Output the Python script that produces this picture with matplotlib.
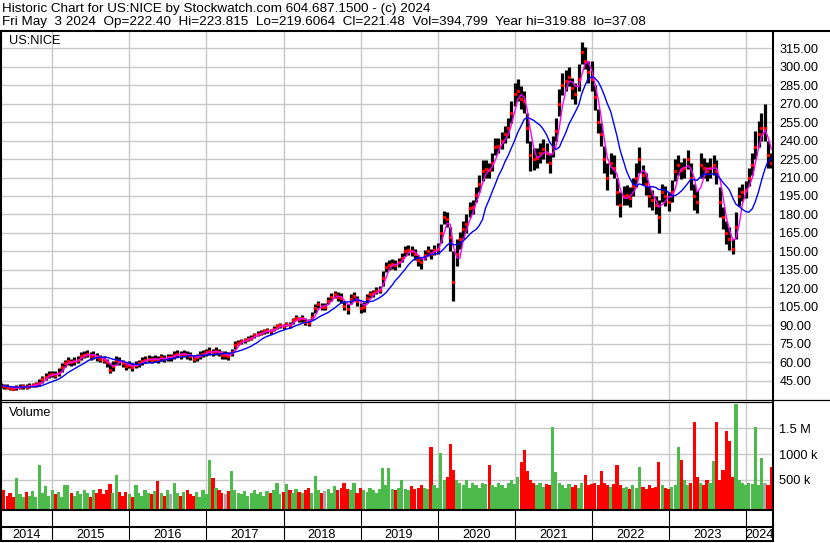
import numpy as np
import pandas as pd
import matplotlib
matplotlib.use('Agg')
import matplotlib.pyplot as plt

plt.rcParams['font.family'] = ['Liberation Sans', 'DejaVu Sans']

# ---------------- data (semi-monthly) ----------------
start_date = '2014-05-01'
close = [
    41, 40.5, 40, 39, 38.5, 39.5, 40, 40.5, 40, 41, 41.5, 42,
    43, 46, 48, 50, 50.5, 50, 51, 56, 59, 61, 60, 61,
    62, 65, 66, 67, 65, 66, 64, 63, 62, 60, 54, 57,
    62, 61, 59, 57, 58, 56, 58, 59, 61, 62, 63, 62,
    63, 62, 64, 63, 64, 64, 66, 67, 66, 67, 66, 65,
    63, 64, 66, 67, 68, 69, 68, 69, 68, 66, 66, 65,
    68, 74, 76, 77, 78, 79, 80, 82, 83, 84, 85, 86,
    85, 87, 89, 90, 89, 91, 90, 94, 96, 95, 96, 93,
    92, 97, 104, 107, 105, 105, 110, 113, 115, 113, 112, 106,
    103, 111, 114, 110, 104, 105, 112, 115, 116, 118, 119, 128,
    137, 139, 140, 139, 141, 145, 150, 151, 150, 148, 143, 141,
    147, 150, 148, 151, 152, 165, 178, 176, 162, 125, 148, 160,
    168, 172, 185, 186, 196, 205, 215, 217, 216, 222, 235, 236,
    240, 245, 250, 262, 278, 280, 274, 272, 250, 228, 225, 226,
    230, 233, 230, 222, 235, 248, 270, 285, 288, 292, 283, 278,
    290, 312, 305, 296, 290, 275, 255, 245, 225, 210, 222, 218,
    198, 188, 195, 196, 193, 203, 210, 225, 212, 205, 195, 192,
    188, 178, 198, 195, 190, 198, 215, 220, 216, 218, 225, 210,
    195, 190, 220, 218, 215, 218, 220, 215, 190, 178, 165, 160,
    152, 170, 195, 198, 200, 210, 220, 235, 245, 250, 250, 228,
    221.48]
high = [
    43, 42.5, 42, 41, 40.5, 41.5, 42, 42.5, 42, 43, 43.5, 44,
    46, 49, 51, 53, 53, 52.5, 55, 59, 62, 64, 63, 64,
    65, 68, 69, 70, 68.5, 69, 67.5, 66, 65, 63, 59, 61,
    65, 64, 62, 60, 61, 59, 61, 62, 64, 65, 66, 65,
    66, 65, 67, 66, 67, 67, 69, 70, 69, 70, 69, 68,
    66, 67, 69, 70, 71, 72, 71, 72, 71, 69, 69, 68,
    71, 77, 78, 79, 80, 81, 82, 84, 85, 86, 87, 88,
    87, 89, 91, 92, 91, 93, 93, 96, 98, 97, 98, 96,
    95, 101, 107, 110, 108, 108, 113, 116, 118, 117, 116, 110,
    107, 115, 117, 114, 108, 109, 115, 118, 119, 121, 122, 134,
    141, 143, 144, 143, 145, 149, 154, 155, 154, 152, 147, 145,
    151, 154, 152, 155, 157, 172, 183, 182, 170, 150, 160, 166,
    175, 180, 190, 192, 202, 212, 224, 224, 222, 230, 242, 242,
    247, 252, 258, 272, 287, 290, 284, 280, 262, 240, 234, 234,
    238, 241, 238, 230, 244, 258, 282, 295, 297, 300, 291, 287,
    302, 319.88, 316, 305, 305, 285, 266, 254, 236, 222, 230, 228,
    210, 198, 203, 204, 202, 210, 222, 235, 220, 214, 203, 200,
    195, 192, 205, 203, 198, 208, 225, 228, 223, 226, 232, 222,
    205, 200, 230, 226, 223, 226, 228, 224, 202, 186, 175, 170,
    160, 182, 202, 205, 207, 218, 230, 248, 256, 262, 270, 240,
    230]
low = [
    39, 38.5, 38, 37.5, 37.08, 37.5, 38, 38.5, 38, 39, 39.5, 40,
    41, 43, 45.5, 47.5, 48, 47.5, 49, 52, 56, 58, 57, 58,
    59, 62, 63.5, 64, 62, 63, 61, 60, 59, 56, 51, 53,
    58, 58, 56, 54, 55, 53, 55, 56, 58, 59, 60, 59,
    60, 59, 61, 60, 61, 61, 63, 64, 63, 64, 63, 62,
    60, 61, 63, 64, 65, 66, 65, 66, 65, 63, 63, 62,
    65, 71, 74, 75, 76, 77, 78, 80, 81, 82, 83, 84,
    83, 85, 87, 88, 87, 89, 88, 91, 94, 93, 93, 90,
    89, 94, 100, 104, 102, 102, 107, 110, 112, 110, 108, 102,
    99, 107, 110, 106, 100, 101, 108, 112, 113, 115, 116, 122,
    133, 135, 136, 135, 137, 141, 146, 147, 146, 143, 138, 136,
    143, 146, 144, 147, 148, 157, 172, 170, 150, 110, 138, 152,
    160, 165, 178, 180, 190, 198, 207, 210, 210, 215, 228, 230,
    233, 238, 242, 254, 268, 272, 266, 262, 238, 215, 216, 218,
    222, 225, 222, 214, 227, 240, 260, 277, 280, 284, 274, 270,
    280, 302, 298, 287, 280, 265, 246, 236, 214, 200, 213, 210,
    188, 178, 188, 188, 186, 195, 202, 214, 204, 196, 186, 184,
    180, 165, 190, 187, 183, 190, 207, 212, 209, 210, 217, 200,
    184, 181, 210, 210, 207, 210, 212, 205, 178, 168, 156, 151,
    148, 160, 187, 191, 193, 203, 212, 225, 235, 240, 240, 218,
    218]
volume_m = [
    1.74, 0.3, 0.2, 0.25, 0.18, 0.54, 0.22, 0.18, 0.26, 0.2, 0.28, 0.17,
    0.78, 0.25, 0.39, 0.2, 0.3, 0.22, 0.26, 0.18, 0.4, 0.4, 0.25, 0.2,
    0.28, 0.22, 0.3, 0.25, 0.18, 0.3, 0.25, 0.33, 0.22, 0.3, 0.42, 0.25,
    0.6, 0.27, 0.2, 0.26, 0.22, 0.18, 0.4, 0.25, 0.2, 0.3, 0.24, 0.22,
    0.28, 0.49, 0.25, 0.2, 0.3, 0.22, 0.45, 0.25, 0.2, 0.26, 0.3, 0.22,
    0.2, 0.26, 0.18, 0.3, 0.22, 0.89, 0.54, 0.35, 0.3, 0.25, 0.22, 0.28,
    0.68, 0.3, 0.25, 0.22, 0.28, 0.2, 0.25, 0.3, 0.22, 0.26, 0.2, 0.28,
    0.25, 0.3, 0.45, 0.22, 0.26, 0.42, 0.3, 0.25, 0.33, 0.27, 0.25, 0.3,
    0.35, 0.25, 0.58, 0.3, 0.25, 0.28, 0.33, 0.25, 0.38, 0.3, 0.35, 0.45,
    0.33, 0.3, 0.45, 0.25, 0.35, 0.3, 0.27, 0.35, 0.3, 0.25, 0.33, 0.74,
    0.4, 0.74, 0.33, 0.3, 0.35, 0.5, 0.33, 0.3, 0.38, 0.33, 0.35, 0.4,
    0.35, 0.33, 1.14, 0.4, 0.35, 1.03, 0.5, 0.55, 1.2, 0.7, 0.5, 0.45,
    0.4, 0.5, 0.35, 0.45, 0.4, 0.35, 0.45, 0.43, 0.78, 0.4, 0.37, 0.45,
    0.4, 0.35, 0.45, 0.5, 0.43, 0.55, 0.85, 1.08, 0.68, 0.5, 0.45, 0.4,
    0.45, 0.37, 0.43, 0.4, 1.52, 0.66, 0.45, 0.4, 0.35, 0.43, 0.37, 0.4,
    0.35, 0.45, 0.6, 0.4, 0.43, 0.45, 0.4, 0.68, 0.45, 0.4, 0.37, 0.43,
    0.78, 0.4, 0.35, 0.37, 0.33, 0.4, 0.35, 0.75, 0.37, 0.33, 0.4, 0.35,
    0.37, 0.85, 0.4, 0.35, 0.33, 0.37, 0.4, 1.14, 0.89, 0.5, 0.4, 0.45,
    1.62, 0.55, 0.45, 0.4, 0.5, 0.45, 0.87, 1.62, 0.5, 0.7, 1.45, 1.25,
    0.55, 1.97, 0.5, 0.45, 0.4, 0.45, 0.43, 1.52, 0.4, 0.92, 0.45, 0.4,
    0.75]
price_ticks = [45, 60, 75, 90, 105, 120, 135, 150, 165, 180, 195, 210,
               225, 240, 255, 270, 285, 300, 315]
vol_ticks = [0.5, 1.0, 1.5]
vol_tick_labels = ['500 k', '1000 k', '1.5 M']
years = list(range(2014, 2025))
header1 = 'Historic Chart for US:NICE by Stockwatch.com 604.687.1500 - (c) 2024'
header2 = ('Fri May  3 2024  Op=222.40  Hi=223.815  Lo=219.6064  Cl=221.48  '
           'Vol=394,799  Year hi=319.88  lo=37.08')

# ---------------- derived ----------------
dates = pd.date_range(start_date, periods=len(close), freq='SMS')
xs = np.array([d.year + (d.dayofyear - 1) / 365.25 for d in dates])
s_close = pd.Series(close)
ma_short = s_close.rolling(3, min_periods=1).mean()
ma_long = s_close.rolling(10, min_periods=1).mean()
chg = s_close.diff().fillna(-1)
vol_colors = ['#FF0000' if c < 0 else ('#4CBB4C' if c > 0 else '#A8A8A8') for c in chg]

# ---------------- figure ----------------
W, H = 830, 543
fig = plt.figure(figsize=(W / 100, H / 100), dpi=100)
fig.patch.set_facecolor('white')


def ax_px(x0, y0, x1, y1, **kw):
    return fig.add_axes([x0 / W, 1 - y1 / H, (x1 - x0) / W, (y1 - y0) / H], **kw)


XL = (2014.321, 2024.352)
GRID = '#C8C8C8'
FS = 9.2

# price panel
ax = ax_px(0, 31, 773, 400)
ax.set_xlim(*XL)
ax.set_ylim(29.3, 329.0)
ax.set_yticks(price_ticks)
ax.set_yticklabels([f'{t:.2f}' for t in price_ticks], fontsize=FS)
ax.yaxis.tick_right()
ax.tick_params(axis='y', length=0, pad=4.5)
ax.set_xticks(years[1:])
ax.tick_params(axis='x', length=0, labelbottom=False)
ax.grid(True, color=GRID, lw=1.0, zorder=0)
ax.set_axisbelow(True)
for sp in ax.spines.values():
    sp.set_visible(False)
ax.vlines(xs, low, high, color='black', lw=2.3, zorder=2)
ax.plot(xs, close, ls='none', marker='s', ms=1.4, mec='#FF0000', mfc='#FF0000', zorder=3)
ax.plot(xs, ma_short, color='#FF00FF', lw=1.0, zorder=4)
ax.plot(xs, ma_long, color='#0000FF', lw=1.0, zorder=4)
ax.text(9 / 773, 1 - 10 / 369, 'US:NICE', transform=ax.transAxes, fontsize=FS,
        va='center', ha='left')

# volume panel
vax = ax_px(0, 402, 773, 509)
vax.set_xlim(*XL)
vb = -0.06
vax.set_ylim(vb, 2.006)
vax.bar(xs, np.array(volume_m) - vb, bottom=vb, width=1 / 24, color=vol_colors,
        lw=0, align='center', zorder=2)
vax.set_yticks(vol_ticks)
vax.set_yticklabels(vol_tick_labels, fontsize=FS)
vax.yaxis.tick_right()
vax.tick_params(axis='y', length=0, pad=4.5)
vax.set_xticks(years[1:])
vax.tick_params(axis='x', length=0, labelbottom=False)
vax.grid(True, color=GRID, lw=1.0, zorder=0)
vax.set_axisbelow(True)
for sp in vax.spines.values():
    sp.set_visible(False)
vax.text(9 / 773, 1 - 11 / 107, 'Volume', transform=vax.transAxes, fontsize=FS,
         va='center', ha='left')

# date rows
dax = ax_px(0, 509, 773, 542)
dax.set_xlim(*XL)
dax.set_ylim(542, 509)
dax.axis('off')
dax.vlines(years[1:], 509, 541, color='black', lw=0.8)
for y in years:
    a = max(y, XL[0])
    b = min(y + 1, XL[1])
    dax.text((a + b) / 2, 534.5, str(y), ha='center', va='center', fontsize=FS)

# borders (pixel overlay)
ov = fig.add_axes([0, 0, 1, 1], zorder=10)
ov.set_xlim(0, W)
ov.set_ylim(H, 0)
ov.axis('off')
ov.patch.set_alpha(0)
lw2 = 1.5
ov.plot([0, W], [31, 31], color='black', lw=lw2, solid_capstyle='butt')
ov.plot([0.8, 0.8], [31, 542], color='black', lw=lw2, solid_capstyle='butt')
ov.plot([773, 773], [31, 542], color='black', lw=lw2, solid_capstyle='butt')
ov.plot([0, W], [400, 400], color='black', lw=0.9, solid_capstyle='butt')
ov.plot([0, 773], [402.2, 402.2], color='black', lw=0.9, solid_capstyle='butt')
ov.plot([0, 773], [509.8, 509.8], color='black', lw=lw2, solid_capstyle='butt')
ov.plot([0, 773], [527, 527], color='black', lw=lw2, solid_capstyle='butt')
ov.plot([0, 773], [541, 541], color='black', lw=lw2, solid_capstyle='butt')

fig.text(2 / W, 1 - 9 / H, header1, fontsize=9.7, va='center', ha='left')
fig.text(2 / W, 1 - 22 / H, header2, fontsize=9.7, va='center', ha='left')

fig.savefig('out.png', dpi=100)
